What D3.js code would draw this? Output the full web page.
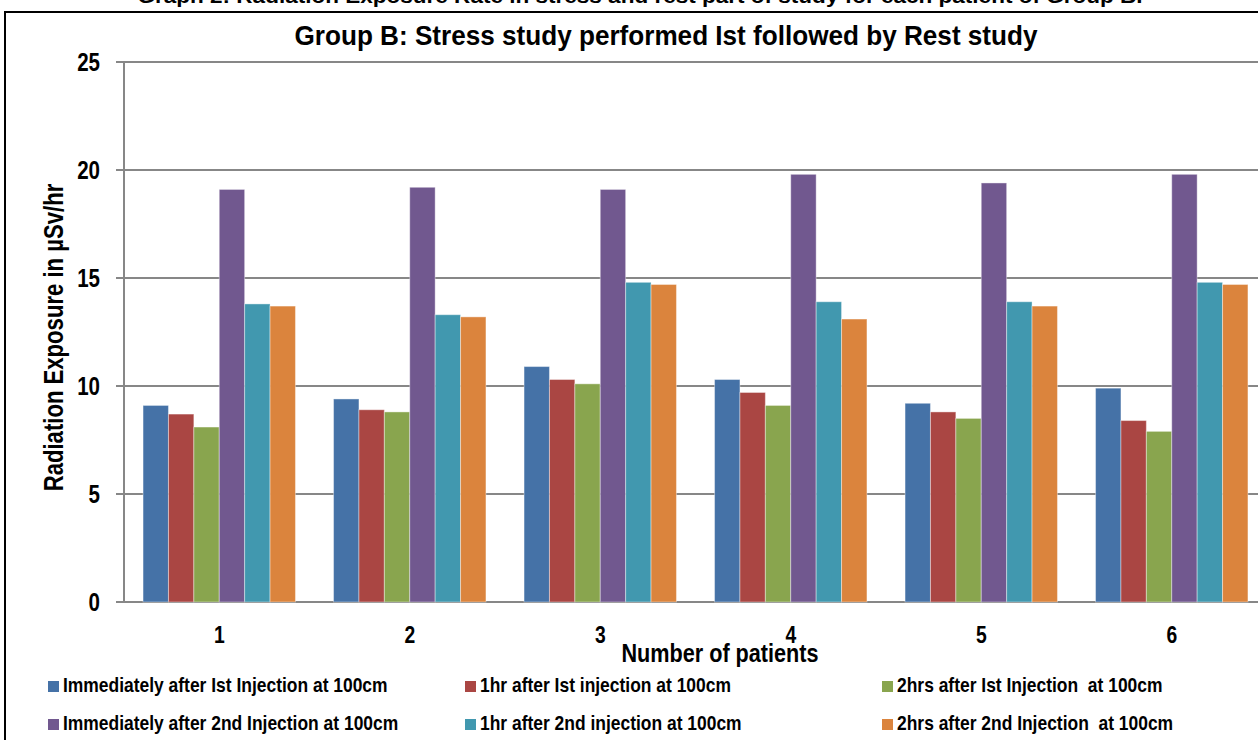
<!DOCTYPE html>
<html>
<head>
<meta charset="utf-8">
<script src="https://cdn.jsdelivr.net/npm/d3@7"></script>
<style>
  body{margin:0;background:#fff;overflow:hidden;}
  svg{display:block;font-family:"Liberation Sans",Arial,sans-serif;font-weight:bold;}
</style>
</head>
<body>
<div id="chart"></div>
<script>
const patients=["1","2","3","4","5","6"];
const seriesNames=[
  "Immediately after Ist Injection at 100cm",
  "1hr after Ist injection at 100cm",
  "2hrs after Ist Injection  at 100cm",
  "Immediately after 2nd Injection at 100cm",
  "1hr after 2nd injection at 100cm",
  "2hrs after 2nd Injection  at 100cm"
];
const seriesColors=["#4572a7","#aa4643","#89a54e","#71588f","#4198af","#db843d"];
const immediate1=[9.1,9.4,10.9,10.3,9.2,9.9];
const oneHour1=[8.7,8.9,10.3,9.7,8.8,8.4];
const twoHours1=[8.1,8.8,10.1,9.1,8.5,7.9];
const immediate2=[19.1,19.2,19.1,19.8,19.4,19.8];
const oneHour2=[13.8,13.3,14.8,13.9,13.9,14.8];
const twoHours2=[13.7,13.2,14.7,13.1,13.7,14.7];
const yTicks=[0,5,10,15,20,25];

(function(){
const seriesValues=[immediate1,oneHour1,twoHours1,immediate2,oneHour2,twoHours2];
const W=1258,H=740;
const svg=d3.select("#chart").append("svg").attr("width",W).attr("height",H);

// the source uses a condensed face (Arial Narrow); squeeze regular glyphs to match
let base=1;
const narrow=f=>sel=>sel.each(function(){
  const w=this.getComputedTextLength();
  d3.select(this).attr("textLength",w*base*f).attr("lengthAdjust","spacingAndGlyphs");
});

// outer frame of the figure, cut at the right and bottom like the source scan
svg.append("rect").attr("x",5).attr("y",12).attr("width",1300).attr("height",800)
  .attr("fill","none").attr("stroke","#000").attr("stroke-width",2);

const title=svg.append("text").attr("x",666).attr("y",45).attr("text-anchor","middle")
  .attr("font-size",28).text("Group B: Stress study performed Ist followed by Rest study");
base=743/title.node().getComputedTextLength();
title.call(narrow(1));

svg.append("text").attr("x",640).attr("y",3).attr("text-anchor","middle")
  .attr("font-size",21).text("Graph 2: Radiation Exposure Rate in stress and rest part of study for each patient of Group B.")
  .call(narrow(1.15));

const pl=124,pr=124+6*190.5,pt=62,pb=602;
const x=d3.scaleBand().domain(patients).range([pl,pr]).paddingInner(0.2).paddingOuter(0.1);
const xs=d3.scaleBand().domain(d3.range(6)).range([0,x.bandwidth()]);
const y=d3.scaleLinear().domain([0,25]).range([pb,pt]);

svg.append("g").selectAll("line").data(yTicks).join("line")
  .attr("x1",pl-8).attr("x2",W).attr("y1",d=>y(d)).attr("y2",d=>y(d))
  .attr("stroke","#878787").attr("stroke-width",2);
svg.append("line").attr("x1",pl).attr("x2",pl).attr("y1",pt).attr("y2",pb)
  .attr("stroke","#878787").attr("stroke-width",2);

svg.append("g").selectAll("text").data(yTicks).join("text")
  .attr("x",100).attr("y",d=>y(d)+9).attr("text-anchor","end")
  .attr("font-size",25).text(d=>d).call(narrow(0.88));

const groups=svg.append("g").selectAll("g").data(patients).join("g")
  .attr("transform",d=>`translate(${x(d)},0)`);
groups.selectAll("rect").data((p,i)=>seriesValues.map((s,k)=>({k,v:s[i]}))).join("rect")
  .attr("x",d=>xs(d.k)).attr("width",xs.bandwidth())
  .attr("y",d=>y(d.v)).attr("height",d=>y(0)-y(d.v))
  .attr("fill",d=>seriesColors[d.k])
  .attr("stroke","rgba(255,255,255,0.4)").attr("stroke-width",1);

svg.append("g").selectAll("text").data(patients).join("text")
  .attr("x",d=>x(d)+x.bandwidth()/2).attr("y",643).attr("text-anchor","middle")
  .attr("font-size",23).text(d=>d).call(narrow(0.9));

svg.append("text").attr("x",720).attr("y",662).attr("text-anchor","middle")
  .attr("font-size",26.5).text("Number of patients").call(narrow(0.875));

svg.append("text").attr("transform","translate(62.5,337.5) rotate(-90)").attr("text-anchor","middle")
  .attr("font-size",27).text("Radiation Exposure in µSv/hr").call(narrow(0.878));

const legendCols=[48,465,882],legendRows=[692,730];
const leg=svg.append("g").selectAll("g").data(seriesNames).join("g")
  .attr("transform",(d,i)=>`translate(${legendCols[i%3]},${legendRows[Math.floor(i/3)]})`);
leg.append("rect").attr("x",0).attr("y",-11).attr("width",11).attr("height",11)
  .attr("fill",(d,i)=>seriesColors[i]);
leg.append("text").attr("x",15).attr("y",0).attr("font-size",21)
  .style("white-space","pre").text(d=>d).call(narrow(0.89));
})();
</script>
</body>
</html>
